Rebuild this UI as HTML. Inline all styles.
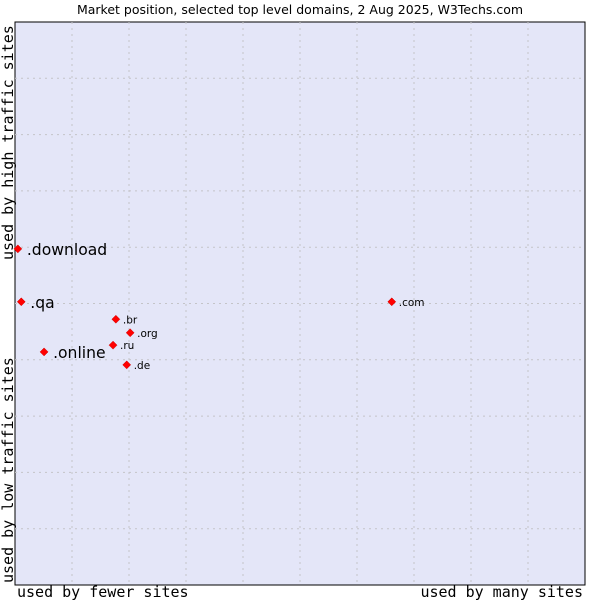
<!DOCTYPE html>
<html><head><meta charset="utf-8"><style>
body{margin:0;background:#fff;}
svg{display:block;font-family:"DejaVu Sans",sans-serif;}
</style></head><body>
<svg id="c" width="600" height="600">
<text x="300" y="14" text-anchor="middle" font-size="12.5" fill="#000">Market position, selected top level domains, 2 Aug 2025, W3Techs.com</text>
<rect x="15" y="22" width="570" height="563" fill="#e4e6f8" stroke="#000" stroke-width="1"/>
<g id="grid"></g>
<g id="pts"></g>
<text x="17" y="597" font-family="DejaVu Sans Mono, monospace" font-size="15">used by fewer sites</text>
<text x="583" y="597" text-anchor="end" font-family="DejaVu Sans Mono, monospace" font-size="15">used by many sites</text>
<text transform="translate(13,583) rotate(-90)" font-family="DejaVu Sans Mono, monospace" font-size="15">used by low traffic sites</text>
<text transform="translate(13,260) rotate(-90)" font-family="DejaVu Sans Mono, monospace" font-size="15">used by high traffic sites</text>
</svg>
<script>
const labels=[".download",".qa",".online",".com",".br",".org",".ru",".de"];
const xVals=[0.5,1.1,5.1,66.1,17.7,20.2,17.2,19.6];
const yVals=[59.7,50.3,41.4,50.3,47.2,44.8,42.6,39.1];
const big=[true,true,true,false,false,false,false,false];
const L=15,T=22,W=570,H=563;
const sx=v=>L+v/100*W, sy=v=>T+H-v/100*H;
const ns="http://www.w3.org/2000/svg";
const g=document.getElementById('grid'),p=document.getElementById('pts');
for(let i=1;i<10;i++){
 const v=document.createElementNS(ns,'line');
 
 
 v.setAttribute('x1',sx(i*10));v.setAttribute('x2',sx(i*10));v.setAttribute('y1',T);v.setAttribute('y2',T+H);
 v.setAttribute('stroke','#c4c4c8');v.setAttribute('stroke-dasharray','2,4');g.appendChild(v);
 const h=document.createElementNS(ns,'line');
 
 
 h.setAttribute('y1',sy(i*10));h.setAttribute('y2',sy(i*10));h.setAttribute('x1',L);h.setAttribute('x2',L+W);
 h.setAttribute('stroke','#c4c4c8');h.setAttribute('stroke-dasharray','2,4');g.appendChild(h);
}
labels.forEach((lab,i)=>{
 const x=sx(xVals[i]),y=sy(yVals[i]);
 const d=document.createElementNS(ns,'polygon');
 
 
 d.setAttribute('points',`${x},${y-4} ${x+4},${y} ${x},${y+4} ${x-4},${y}`);
 d.setAttribute('fill','#ff0000');d.setAttribute('stroke','#c00');d.setAttribute('stroke-width','0.5');p.appendChild(d);
 const t=document.createElementNS(ns,'text');
 
 
 t.setAttribute('x',x+(big[i]?9:7));t.setAttribute('y',y+(big[i]?6:4));
 t.setAttribute('font-size',big[i]?'15.6':'10.5');t.textContent=lab;p.appendChild(t);
});
</script>
</body></html>
